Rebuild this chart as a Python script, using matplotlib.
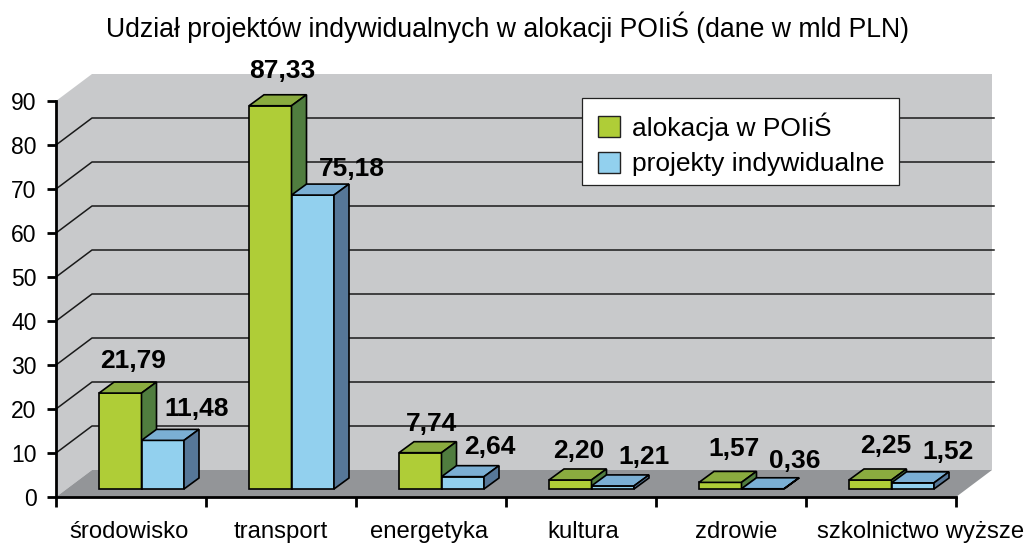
import matplotlib
matplotlib.use('Agg')
import matplotlib.pyplot as plt
from matplotlib.patches import Patch, Rectangle

plt.rcParams['font.family'] = ['Liberation Sans', 'DejaVu Sans']

kategorie = ['środowisko', 'transport', 'energetyka', 'kultura', 'zdrowie', 'szkolnictwo wyższe']

# wysokosci slupkow (nie zawsze zgadzaja sie z etykietami)
alokacja = [21.8, 87.1, 8.25, 2.05, 1.5, 2.05]
projekty = [11.05, 66.8, 2.8, 0.7, 0.05, 1.4]

# etykiety wydrukowane nad slupkami
alokacja_txt = ['21,79', '87,33', '7,74', '2,20', '1,57', '2,25']
projekty_txt = ['11,48', '75,18', '2,64', '1,21', '0,36', '1,52']

# przesuniecia etykiet w pikselach
alokacja_dx = [5, 5, 4, 1, 6, 8]
alokacja_dy = [21, 24, 18, 18, 22, 23]
projekty_dx = [26, 32, 20, 24, 25, 28]
projekty_dy = [20, 15, 19, 18, 17, 20]
kategorie_dx = [-2, 0, -2, 2, 5, 40]

yticks = list(range(0, 100, 10))

fig = plt.figure(figsize=(10.25, 5.43), dpi=100)
ax = fig.add_axes([56 / 1025, 46 / 543, 900 / 1025, 396 / 543])
ax.set_xlim(0, 6)
ax.set_ylim(0, 90)

# przeliczenie pikseli na jednostki osi
px_x = 6 / 900
px_y = 90 / 396
wall_dx = 36 * px_x
wall_dy = 27 * px_y
bar_dx = 15 * px_x
bar_dy = 11 * px_y
base = 8 * px_y
bar_w = 42.5 * px_x
bar_off = 43 * px_x

# sciany i podloga
ax.fill([0, wall_dx, wall_dx, 0], [0, wall_dy, 90 + wall_dy, 90], color='#c8c9cb', lw=0, clip_on=False, zorder=1)
ax.fill([wall_dx, 6 + wall_dx, 6 + wall_dx, wall_dx], [wall_dy, wall_dy, 90 + wall_dy, 90 + wall_dy],
        color='#c8c9cb', lw=0, clip_on=False, zorder=1)
ax.fill([0, 6, 6 + wall_dx, wall_dx], [0, 0, wall_dy, wall_dy], color='#939598', lw=0, clip_on=False, zorder=1)

# linie siatki
for t in yticks[1:-1]:
    ax.plot([0, wall_dx, 6 + wall_dx + 2 * px_x], [t, t + wall_dy, t + wall_dy], color='#1a1a1a', lw=1.1,
            clip_on=False, zorder=2)


def rysuj_slupek(x, h, front, top, side):
    y1 = base + h
    ax.bar(x, h, bar_w, bottom=base, align='edge', color=front, edgecolor='black', linewidth=1.2,
           clip_on=False, zorder=3)
    ax.fill([x, x + bar_w, x + bar_w + bar_dx, x + bar_dx], [y1, y1, y1 + bar_dy, y1 + bar_dy],
            facecolor=top, edgecolor='black', linewidth=1.2, clip_on=False, zorder=3)
    ax.fill([x + bar_w, x + bar_w + bar_dx, x + bar_w + bar_dx, x + bar_w],
            [base, base + bar_dy, y1 + bar_dy, y1],
            facecolor=side, edgecolor='black', linewidth=1.2, clip_on=False, zorder=3)


for i in range(len(kategorie)):
    x1 = i + bar_off
    x2 = x1 + bar_w
    rysuj_slupek(x1, alokacja[i], '#afcd37', '#8aab3f', '#507d3f')
    rysuj_slupek(x2, projekty[i], '#92d0ee', '#7bafd4', '#567798')

    ax.annotate(alokacja_txt[i], xy=(x1 + bar_w / 2 + bar_dx / 2, base + alokacja[i] + bar_dy),
                xytext=(alokacja_dx[i], alokacja_dy[i]), textcoords='offset pixels',
                ha='center', va='center', fontsize=19, fontweight='bold', zorder=5, annotation_clip=False)
    ax.annotate(projekty_txt[i], xy=(x2 + bar_w / 2 + bar_dx / 2, base + projekty[i] + bar_dy),
                xytext=(projekty_dx[i], projekty_dy[i]), textcoords='offset pixels',
                ha='center', va='center', fontsize=19, fontweight='bold', zorder=5, annotation_clip=False)

    ax.annotate(kategorie[i], xy=(i + 0.5, 0), xytext=(kategorie_dx[i], -41), textcoords='offset pixels',
                ha='center', va='baseline', fontsize=17.2, annotation_clip=False)

# osie
for s in ['top', 'right']:
    ax.spines[s].set_visible(False)
for s in ['left', 'bottom']:
    ax.spines[s].set_linewidth(2)
    ax.spines[s].set_zorder(4)
ax.patch.set_visible(False)
ax.set_yticks(yticks)
ax.set_xticks(range(7))
ax.set_xticklabels([])
ax.tick_params(axis='y', length=6.5, width=2, pad=7.5, labelsize=16.5)
ax.tick_params(axis='x', length=7.5, width=2)

# ramka legendy osobno, bo borderpad jest taki sam ze wszystkich stron
ax.add_patch(Rectangle((526 / 900, 312 / 396), 317 / 900, 87 / 396, transform=ax.transAxes, facecolor='white',
                       edgecolor='#222222', linewidth=0.9, clip_on=False, zorder=5.5))
handles = [Patch(facecolor='#afcd37', edgecolor='#222222', label='alokacja w POIiŚ'),
           Patch(facecolor='#92d0ee', edgecolor='#222222', label='projekty indywidualne')]
leg = ax.legend(handles=handles, loc='upper left', bbox_to_anchor=(526 / 900, 401 / 396), borderaxespad=0,
                fontsize=19, frameon=False, handlelength=0.83, handleheight=0.83,
                handletextpad=0.45, borderpad=0.62, labelspacing=0.42)
leg.set_zorder(6)

fig.text(507 / 1025, 1 - 37 / 543, 'Udział projektów indywidualnych w alokacji POIiŚ (dane w mld PLN)',
         ha='center', va='baseline', fontsize=19.2)

fig.savefig('out.png', dpi=100)
